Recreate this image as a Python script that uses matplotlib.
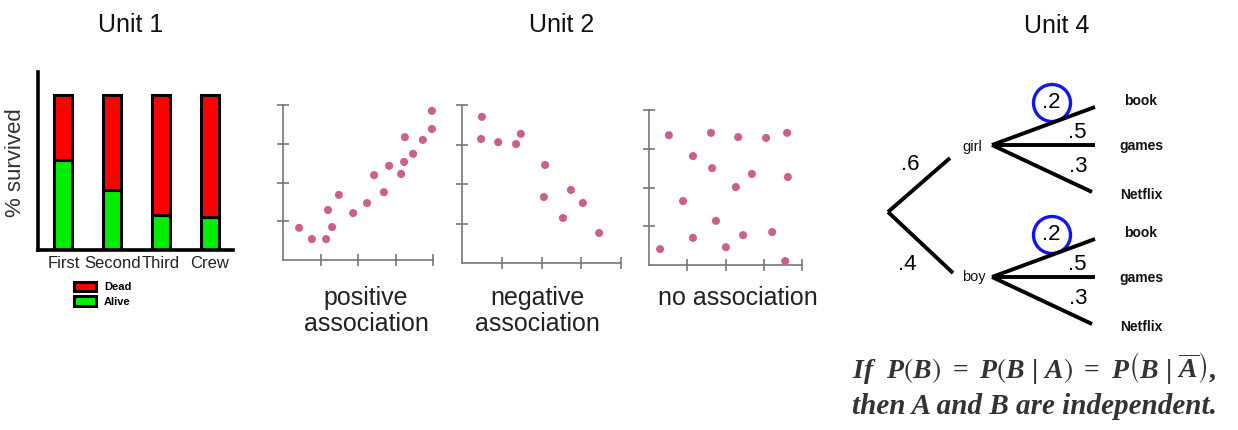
import numpy as np
import matplotlib
matplotlib.use("Agg")
import matplotlib.pyplot as plt
from matplotlib.patches import Circle

plt.rcParams['font.family'] = ["Liberation Sans", "DejaVu Sans"]
plt.rcParams['mathtext.fontset'] = "custom"
plt.rcParams['mathtext.it'] = "Liberation Serif:italic:bold"
plt.rcParams['mathtext.rm'] = "Liberation Serif:bold"
plt.rcParams['mathtext.bf'] = "Liberation Serif:bold"
plt.rcParams['mathtext.fallback'] = "stix"

# Unit 1 - survival by class
classes = ["First", "Second", "Third", "Crew"]
alive = np.array([58, 38.5, 22.5, 21])
dead = 100 - alive

# Unit 2 - scatter plots (axis units 0..4)
pos_x = [0.43, 0.77, 1.15, 1.2, 1.31, 1.49, 1.87, 2.24, 2.43, 2.69, 2.83, 3.15, 3.23, 3.25, 3.47, 3.73, 3.97, 3.97]
pos_y = [0.83, 0.54, 0.54, 1.29, 0.85, 1.68, 1.21, 1.47, 2.19, 1.75, 2.43, 2.22, 2.53, 3.17, 2.74, 3.10, 3.38, 3.85]
neg_x = [0.50, 0.48, 0.91, 1.36, 1.48, 2.09, 2.06, 2.74, 3.04, 2.54, 3.45]
neg_y = [3.70, 3.14, 3.06, 3.01, 3.27, 2.48, 1.67, 1.85, 1.52, 1.14, 0.76]
none_x = [0.52, 1.62, 2.33, 3.06, 3.61, 1.15, 1.65, 2.69, 3.63, 2.27, 0.89, 1.75, 1.15, 2.46, 3.22, 0.29, 2.01, 3.56]
none_y = [3.35, 3.41, 3.30, 3.28, 3.41, 2.81, 2.50, 2.35, 2.27, 2.01, 1.65, 1.14, 0.70, 0.77, 0.85, 0.41, 0.46, 0.10]
scatter_titles = [["positive", "association"], ["negative", "association"], ["no association"]]

# Unit 4 - tree diagram
level1_labels = ["girl", "boy"]
level1_probs = [".6", ".4"]
level2_labels = ["book", "games", "Netflix"]
level2_probs = [".2", ".5", ".3"]
circled_prob = ".2"

W, H = 1238, 430


def box(l, t, r, b):
    return [l / W, 1 - b / H, (r - l) / W, (b - t) / H]


fig = plt.figure(figsize=(W / 100, H / 100), dpi=100)

# overlay in pixel coordinates for titles and the tree
ov = fig.add_axes([0, 0, 1, 1])
ov.set_xlim(0, W)
ov.set_ylim(H, 0)
ov.axis("off")

for x, y, t in [(131, 32, "Unit 1"), (562, 32, "Unit 2"), (1057, 33, "Unit 4")]:
    ov.text(x, y, t, ha="center", va="baseline", fontsize=18, color="#111111")

# ---- bar chart
ax1 = fig.add_axes(box(38, 72, 233, 250))
xpos = np.arange(len(classes))
alive_bars = ax1.bar(xpos, alive, width=0.37, color="#00ee00", edgecolor="black", linewidth=2.2)
dead_bars = ax1.bar(xpos, dead, bottom=alive, width=0.37, color="#ff0000", edgecolor="black", linewidth=2.2)
ax1.set_xlim(-0.52, 3.47)
ax1.set_ylim(0, 114.5)
ax1.set_xticks(xpos)
ax1.set_xticklabels(classes, fontsize=12, color="#222222")
ax1.set_yticks([])
ax1.tick_params(axis="x", length=0, pad=4)
for s in ["top", "right"]:
    ax1.spines[s].set_visible(False)
for s in ["left", "bottom"]:
    ax1.spines[s].set_linewidth(2.6)
    ax1.spines[s].set_color("black")
ov.text(16, 163, "% survived", rotation=90, ha="center", va="center", fontsize=16, color="#333333")
ax1.legend([dead_bars, alive_bars], ["Dead", "Alive"], loc="upper left",
           bbox_to_anchor=(74 / W, 1 - 282 / H), bbox_transform=fig.transFigure,
           frameon=False, prop={"size": 8, "weight": "bold"}, handlelength=2.0,
           handleheight=0.9, labelspacing=0.35, handletextpad=0.7, borderpad=0, borderaxespad=0)

# ---- scatter panels
panels = [
    (box(283, 105, 433, 260), pos_x, pos_y),
    (box(462, 105, 621, 263), neg_x, neg_y),
    (box(649, 110, 802, 265), none_x, none_y),
]
for (rect, xs, ys) in panels:
    ax = fig.add_axes(rect)
    ax.scatter(xs, ys, s=34, color="#c9608f", edgecolors="none", clip_on=False, zorder=3)
    ax.set_xlim(0, 4)
    ax.set_ylim(0, 4)
    ax.set_xticks([1, 2, 3, 4])
    ax.set_yticks([1, 2, 3, 4])
    ax.tick_params(direction="inout", length=8, width=1.2, color="#777777",
                   labelbottom=False, labelleft=False)
    for s in ["top", "right"]:
        ax.spines[s].set_visible(False)
    for s in ["left", "bottom"]:
        ax.spines[s].set_color("#777777")
        ax.spines[s].set_linewidth(1.2)
    ax.patch.set_alpha(0)

for x, lines in zip([366, 537, 738], scatter_titles):
    for k, line in enumerate(lines):
        ov.text(x, 305 + 26 * k, line, ha="center", va="baseline", fontsize=18, color="#222222")

# ---- tree diagram
root = (888, 212)
node_y = [145, 277]
l1_end = [(950, 158), (953, 273)]
l1_label_xy = [(972, 147), (974, 277)]
l1_prob_xy = [(910, 165), (907, 265)]
split_x = 992
leaf_end_x = [1095, 1095, 1092]
leaf_dy = [-38, 0, 47]
leaf_label_dy = [-44, 1, 50]
prob_dx = [59, 85, 86]
prob_dy = [-42, -13, 21]

for i, lab in enumerate(level1_labels):
    ov.plot([root[0], l1_end[i][0]], [root[1], l1_end[i][1]], color="black", lw=2.8,
            solid_capstyle="butt")
    ov.text(l1_prob_xy[i][0], l1_prob_xy[i][1], level1_probs[i], ha="center", va="center",
            fontsize=16, color="black")
    ov.text(l1_label_xy[i][0], l1_label_xy[i][1], lab, ha="center", va="center",
            fontsize=10.5, color="#111111")
    oy = node_y[i]
    for j, leaf in enumerate(level2_labels):
        ey = oy + leaf_dy[j]
        ov.plot([split_x, leaf_end_x[j]], [oy, ey], color="black", lw=2.8,
                solid_capstyle="butt")
        ov.text(1141, oy + leaf_label_dy[j], leaf, ha="center", va="center",
                fontsize=10, fontweight="bold", color="#111111")
        px, py = split_x + prob_dx[j], oy + prob_dy[j]
        ov.text(px, py, level2_probs[j], ha="center", va="center", fontsize=16, color="black")
        if level2_probs[j] == circled_prob:
            ov.add_patch(Circle((px + 1, py), 18.5, fill=False, edgecolor="#1414f0", lw=2.4))

# ---- independence statement
ov.text(852, 378,
        r"$\mathit{If}\ \ P\left(B\right)\ =\ P\left(B\ |\ A\right)\ =\ P\left(B\ |\ \overline{A}\right),$",
        ha="left", va="baseline", fontsize=20, color="#333333")
ov.text(852, 414, "then A and B are independent.", ha="left", va="baseline", fontsize=21,
        family="Liberation Serif", style="italic", fontweight="bold", color="#333333")

fig.savefig("out.png", dpi=100)
